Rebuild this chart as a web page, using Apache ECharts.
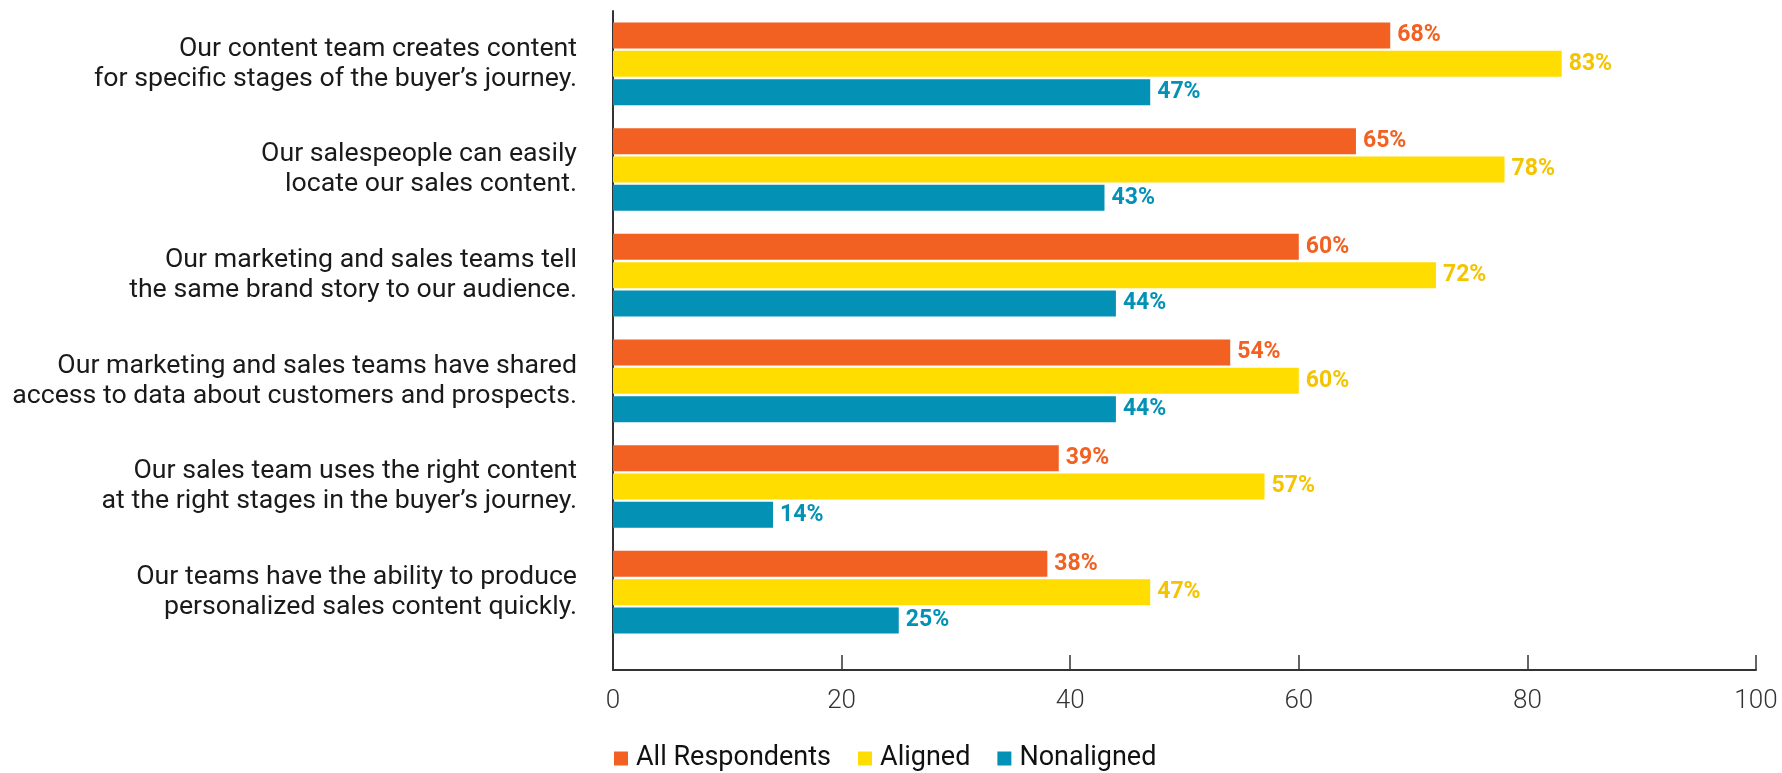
<!DOCTYPE html>
<html>
<head>
<meta charset="utf-8">
<script src="https://cdn.jsdelivr.net/npm/echarts@6/dist/echarts.min.js"></script>
<style>
  html, body { margin: 0; padding: 0; background: #fff; }
  #chart { width: 1782px; height: 773px; }
</style>
</head>
<body>
<div id="chart"></div>
<script>
const categories = [
  'Our content team creates content\nfor specific stages of the buyer\u2019s journey.',
  'Our salespeople can easily\nlocate our sales content.',
  'Our marketing and sales teams tell\nthe same brand story to our audience.',
  'Our marketing and sales teams have shared\naccess to data about customers and prospects.',
  'Our sales team uses the right content\nat the right stages in the buyer\u2019s journey.',
  'Our teams have the ability to produce\npersonalized sales content quickly.'
]
const allRespondents = [68, 65, 60, 54, 39, 38]
const aligned = [83, 78, 72, 60, 57, 47]
const nonaligned = [47, 43, 44, 44, 14, 25]
const xTicks = [0, 20, 40, 60, 80, 100]

const FONT = 'Roboto'

function barSeries(name, data, color, labelColor) {
  return {
    name: name,
    type: 'bar',
    xAxisIndex: 0,
    yAxisIndex: 0,
    data: data,
    barWidth: 26,
    barGap: '9%',
    itemStyle: { color: color },
    label: {
      show: true,
      position: 'right',
      distance: 7,
      formatter: '{c}%',
      color: labelColor,
      fontFamily: FONT,
      fontWeight: 'bold',
      fontSize: 23
    }
  }
}

// first label sits a little higher in the original
const categoryData = categories.map((c, i) => i === 0
  ? { value: c, textStyle: { padding: [0, 0, 20, 0] } }
  : c)

const chart = echarts.init(document.getElementById('chart'))
chart.setOption({
  animation: false,
  textStyle: { fontFamily: FONT },
  legend: {
    left: 614,
    top: 745,
    padding: 0,
    icon: 'rect',
    itemWidth: 14,
    itemHeight: 14,
    itemGap: 27,
    textStyle: { fontFamily: FONT, fontSize: 27, color: '#111', padding: [0, 0, 0, 3] },
    data: ['All Respondents', 'Aligned', 'Nonaligned']
  },
  grid: [
    // bars
    { left: 613, right: 26, top: 11, height: 634, containLabel: false },
    // axes frame
    { left: 613, right: 26, top: 11, bottom: 103, containLabel: false }
  ],
  xAxis: [
    { gridIndex: 0, type: 'value', min: 0, max: 100, show: false },
    {
      gridIndex: 1,
      type: 'value',
      min: xTicks[0],
      max: xTicks[xTicks.length - 1],
      interval: 20,
      axisLine: { show: true, lineStyle: { color: '#333', width: 2 } },
      axisTick: { show: true, inside: true, length: 15, lineStyle: { color: '#333', width: 1.5 } },
      axisLabel: { margin: 18, fontSize: 26, fontWeight: 300, color: '#333', fontFamily: FONT },
      splitLine: { show: false }
    }
  ],
  yAxis: [
    {
      gridIndex: 0,
      type: 'category',
      inverse: true,
      data: categoryData,
      axisLine: { show: false },
      axisTick: { show: false },
      axisLabel: {
        margin: 36,
        fontSize: 26.7,
        lineHeight: 30,
        padding: [0, 0, 10, 0],
        color: '#1a1a1a',
        fontFamily: FONT,
        align: 'right'
      }
    },
    {
      gridIndex: 1,
      type: 'value',
      min: 0,
      max: 1,
      axisLine: { show: true, lineStyle: { color: '#333', width: 2 } },
      axisTick: { show: false },
      axisLabel: { show: false },
      splitLine: { show: false }
    }
  ],
  series: [
    barSeries('All Respondents', allRespondents, '#F26122', '#F26122'),
    barSeries('Aligned', aligned, '#FFDD00', '#F4C400'),
    barSeries('Nonaligned', nonaligned, '#0391B6', '#0391B6')
  ]
})
</script>
</body>
</html>
